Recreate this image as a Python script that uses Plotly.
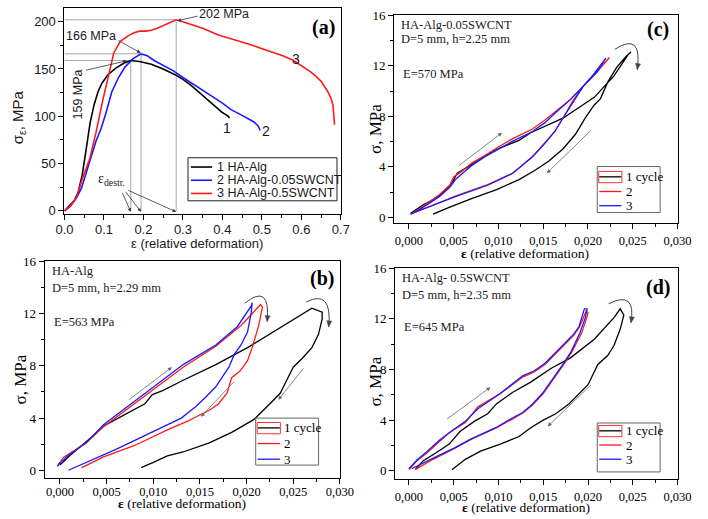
import numpy as np
import plotly.graph_objects as go

W, H = 708, 519

# ---------------- data: panel (a) stress-strain ----------------
a_names = ["1 HA-Alg", "2 HA-Alg-0.05SWCNT", "3 HA-Alg-0.5SWCNT"]
a_colors = ["#000000", "#1a1aff", "#ff1a1a"]
a_curve_labels = ["1", "2", "3"]

a1_x = [0, 0.015, 0.025, 0.035, 0.045, 0.055, 0.065, 0.075, 0.085, 0.095, 0.11, 0.13, 0.15, 0.168,
        0.19, 0.22, 0.25, 0.28, 0.30, 0.32, 0.34, 0.36, 0.38, 0.40, 0.415, 0.418]
a1_y = [0, 6, 11, 20, 38, 65, 93, 112, 126, 135, 144, 151, 156, 159,
        158, 155, 150, 144, 139, 133, 126, 118, 111, 104, 100, 98]

a2_x = [0, 0.015, 0.031, 0.043, 0.055, 0.068, 0.08, 0.092, 0.104, 0.12, 0.137, 0.153, 0.174, 0.194,
        0.21, 0.227, 0.25, 0.276, 0.30, 0.325, 0.35, 0.374, 0.40, 0.422, 0.445, 0.463, 0.48, 0.49, 0.496]
a2_y = [0, 5, 14, 24, 40, 59, 74, 86, 102, 126, 141, 152, 161, 166,
        164, 159, 154, 148, 141, 134, 127, 121, 114, 107, 102, 98, 94, 90, 85]

a3_x = [0, 0.015, 0.03, 0.047, 0.064, 0.08, 0.096, 0.113, 0.125, 0.141, 0.161, 0.175, 0.19, 0.205,
        0.22, 0.235, 0.25, 0.265, 0.283, 0.30, 0.35, 0.39, 0.43, 0.47, 0.51, 0.553, 0.58, 0.602,
        0.62, 0.635, 0.65, 0.667, 0.675, 0.68, 0.683, 0.684]
a3_y = [0, 5, 14, 36, 55, 83, 115, 147, 167, 179, 185, 188, 190, 190,
        191, 193, 196, 199, 202, 200, 193, 186, 181, 176, 170, 164, 159, 153,
        148, 143, 137, 126, 119, 112, 100, 91]

a_curve_label_pos_x = [0.411, 0.511, 0.586]
a_curve_label_pos_y = [88, 84, 161]

# ---------------- data: cyclic loading panels ----------------
cyc_names = ["1 cycle", "2", "3"]
cyc_colors = ["#000000", "#ff1a1a", "#1a1aff"]

# (b) HA-Alg
b1_x = [0.0000, 0.0010, 0.0020, 0.0035, 0.0047, 0.0060, 0.0070, 0.0080, 0.0091, 0.0099, 0.0110, 0.0132,
        0.0167, 0.0201, 0.0236, 0.0270, 0.0281, 0.0281, 0.0277, 0.0270, 0.0260, 0.0250, 0.0243, 0.0236,
        0.0225, 0.0215, 0.0208, 0.0184, 0.0160, 0.0132, 0.0115, 0.0100, 0.0087]
b1_y = [0.4, 1.1, 1.7, 2.6, 3.4, 3.9, 4.3, 4.7, 5.1, 5.8, 6.1, 6.9,
        8.1, 9.4, 10.9, 12.42, 12.12, 11.6, 10.4, 9.4, 8.6, 7.9, 6.9, 5.9,
        5.1, 4.4, 3.9, 2.9, 2.1, 1.4, 1.1, 0.6, 0.2]
b2_x = [0.0000, -0.0002, 0.0004, 0.0015, 0.0028, 0.0046, 0.0070, 0.0098, 0.0132, 0.0167, 0.0194, 0.0215,
        0.0217, 0.0213, 0.0206, 0.0201, 0.0193, 0.0184, 0.0179, 0.0170, 0.0160, 0.0146, 0.0138, 0.0115,
        0.0080, 0.0046, 0.0023]
b2_y = [0.6, 0.4, 1.0, 1.5, 2.1, 3.3, 4.6, 6.1, 7.9, 9.5, 11.1, 12.7,
        12.5, 11.1, 9.4, 8.4, 7.6, 7.1, 5.9, 5.1, 4.6, 4.1, 3.8, 3.1,
        1.9, 1.0, 0.18]
b3_x = [0.0000, -0.0003, 0.0008, 0.0028, 0.0047, 0.0073, 0.0101, 0.0132, 0.0167, 0.0190, 0.0205, 0.0206,
        0.0205, 0.0201, 0.0194, 0.0187, 0.0181, 0.0174, 0.0167, 0.0156, 0.0146, 0.0130, 0.0100, 0.0060,
        0.0009]
b3_y = [0.6, 0.3, 1.1, 2.1, 3.5, 4.9, 6.4, 8.1, 9.6, 11.0, 12.6, 12.85,
        12.1, 10.6, 9.6, 8.9, 7.9, 7.1, 6.4, 5.6, 4.9, 4.0, 2.95, 1.6,
        0.0]

# (c) HA-Alg-0.05SWCNT
c1_x = [0.0002, 0.0016, 0.0027, 0.0037, 0.0048, 0.0054, 0.0066, 0.0088, 0.0102, 0.0123, 0.0136, 0.0172,
        0.0207, 0.0229, 0.0245, 0.0248, 0.0243, 0.0232, 0.0222, 0.0214, 0.0207, 0.0197, 0.0186, 0.0172,
        0.0156, 0.0140, 0.0123, 0.0098, 0.0070, 0.0045, 0.0027]
c1_y = [0.34, 1.0, 1.4, 1.9, 2.7, 3.5, 4.0, 5.0, 5.5, 6.1, 6.7, 7.85,
        9.5, 11.2, 12.9, 13.08, 12.77, 11.87, 10.7, 9.4, 8.9, 7.87, 6.58, 5.42,
        4.45, 3.7, 3.0, 2.2, 1.5, 0.8, 0.26]
c2_x = [0.0002, 0.0010, 0.0020, 0.0034, 0.0046, 0.0050, 0.0060, 0.0070, 0.0085, 0.0098, 0.0115, 0.0138,
        0.0152, 0.0164, 0.0180, 0.0195, 0.0210, 0.0224, 0.0207, 0.0195, 0.0182, 0.0175, 0.0163, 0.0150,
        0.0138, 0.0116, 0.0088, 0.0052, 0.0023, 0.0002]
c2_y = [0.26, 0.6, 1.1, 1.8, 2.6, 3.2, 3.7, 4.3, 4.9, 5.5, 6.2, 7.0,
        7.7, 8.4, 9.3, 10.4, 11.5, 12.65, 11.3, 10.4, 9.1, 8.2, 6.8, 5.8,
        4.8, 3.5, 2.6, 1.7, 0.9, 0.26]
c3_x = [0.0002, 0.0010, 0.0020, 0.0034, 0.0046, 0.0052, 0.0060, 0.0070, 0.0085, 0.0098, 0.0115, 0.0138,
        0.0152, 0.0164, 0.0180, 0.0195, 0.0210, 0.0220, 0.0206, 0.0195, 0.0182, 0.0175, 0.0163, 0.0150,
        0.0138, 0.0116, 0.0088, 0.0052, 0.0023, 0.0002]
c3_y = [0.26, 0.55, 1.0, 1.65, 2.4, 3.0, 3.5, 4.1, 4.8, 5.3, 6.0, 6.8,
        7.5, 8.3, 9.3, 10.4, 11.5, 12.6, 11.3, 10.4, 9.0, 8.2, 6.8, 5.7,
        4.8, 3.5, 2.55, 1.65, 0.85, 0.3]

# (d) HA-Alg-0.5SWCNT
d1_x = [0.0007, 0.0016, 0.0030, 0.0045, 0.0057, 0.0073, 0.0088, 0.0098, 0.0116, 0.0136, 0.0159, 0.0180,
        0.0207, 0.0229, 0.0236, 0.0240, 0.0236, 0.0229, 0.0222, 0.0211, 0.0200, 0.0189, 0.0179, 0.0164,
        0.0150, 0.0136, 0.0123, 0.0102, 0.0080, 0.0063, 0.0048]
d1_y = [0.08, 0.78, 1.4, 2.1, 3.1, 3.9, 4.5, 5.3, 6.2, 7.0, 8.1, 8.9,
        10.4, 12.1, 12.8, 12.3, 11.2, 9.9, 9.1, 8.4, 6.8, 6.05, 5.3, 4.5,
        4.0, 3.4, 2.7, 2.1, 1.55, 0.9, 0.08]
d2_x = [0.0000, 0.0009, 0.0020, 0.0034, 0.0045, 0.0063, 0.0077, 0.0102, 0.0127, 0.0140, 0.0152, 0.0166,
        0.0184, 0.0190, 0.0198, 0.0200, 0.0199, 0.0193, 0.0182, 0.0172, 0.0161, 0.0150, 0.0138, 0.0128,
        0.0116, 0.0098, 0.0070, 0.0052, 0.0027, 0.0007]
d2_y = [0.08, 0.78, 1.4, 2.3, 3.0, 3.8, 5.05, 6.1, 7.4, 7.8, 8.4, 9.4,
        10.7, 11.3, 12.6, 12.5, 12.2, 10.9, 9.4, 8.3, 7.2, 6.1, 5.2, 4.6,
        4.1, 3.4, 2.5, 1.8, 0.9, 0.08]
d3_x = [0.0000, 0.0009, 0.0020, 0.0034, 0.0045, 0.0063, 0.0077, 0.0102, 0.0127, 0.0140, 0.0152, 0.0166,
        0.0184, 0.0190, 0.0196, 0.0199, 0.0197, 0.0191, 0.0181, 0.0171, 0.0160, 0.0149, 0.0137, 0.0127,
        0.0115, 0.0097, 0.0069, 0.0051, 0.0026, 0.0003]
d3_y = [0.15, 0.85, 1.5, 2.4, 3.0, 3.9, 4.9, 6.1, 7.5, 7.9, 8.5, 9.5,
        10.8, 11.4, 12.8, 12.8, 12.1, 10.9, 9.4, 8.3, 7.2, 6.1, 5.2, 4.6,
        4.15, 3.4, 2.5, 1.8, 0.95, 0.15]

# tick labels
a_x_ticks = [0, 0.1, 0.2, 0.3, 0.4, 0.5, 0.6, 0.7]
a_x_labels = ["0.0", "0.1", "0.2", "0.3", "0.4", "0.5", "0.6", "0.7"]
a_y_ticks = [0, 50, 100, 150, 200]
cyc_x_ticks = [0, 0.005, 0.010, 0.015, 0.020, 0.025, 0.030]
cyc_x_labels = ["0,000", "0,005", "0,010", "0,015", "0,020", "0,025", "0,030"]
cyc_y_ticks = [0, 4, 8, 12, 16]

panel_info = {
    "b": ["HA-Alg", "D=5 mm, h=2.29 mm", "E=563 MPa"],
    "c": ["HA-Alg-0.05SWCNT", "D=5 mm, h=2.25 mm", "E=570 MPa"],
    "d": ["HA-Alg- 0.5SWCNT", "D=5 mm, h=2.35 mm", "E=645 MPa"],
}

# ---------------- helpers ----------------
SANS = "Liberation Sans"
SERIF = "Liberation Serif"


def PX(px):
    return px / W


def PY(py):
    return 1 - py / H


fig = go.Figure()

# panel (a) reference lines from peak values
a_series = [(a1_x, a1_y), (a2_x, a2_y), (a3_x, a3_y)]
peaks = []
for xs, ys in a_series:
    i = int(np.argmax(ys))
    peaks.append((xs[i], ys[i]))
for px_, py_ in peaks:
    fig.add_trace(go.Scatter(x=[0, px_, px_], y=[py_, py_, 0], mode="lines",
                             line=dict(color="#a8a8a8", width=1), showlegend=False,
                             hoverinfo="skip", xaxis="x", yaxis="y"))
for (xs, ys), nm, col in zip(a_series, a_names, a_colors):
    fig.add_trace(go.Scatter(x=xs, y=ys, mode="lines", name=nm, line=dict(color=col, width=1.6),
                             showlegend=False, xaxis="x", yaxis="y"))

cyc_series = {
    "b": ([(b1_x, b1_y), (b2_x, b2_y), (b3_x, b3_y)], "x3", "y3"),
    "c": ([(c1_x, c1_y), (c2_x, c2_y), (c3_x, c3_y)], "x2", "y2"),
    "d": ([(d1_x, d1_y), (d2_x, d2_y), (d3_x, d3_y)], "x4", "y4"),
}
for key, (series, xa, ya) in cyc_series.items():
    for (xs, ys), nm, col in zip(series, cyc_names, cyc_colors):
        fig.add_trace(go.Scatter(x=xs, y=ys, mode="lines", name=nm, line=dict(color=col, width=1.3),
                                 showlegend=False, xaxis=xa, yaxis=ya))


def axis_base(font):
    return dict(showline=True, linecolor="black", linewidth=1, mirror=True, ticks="outside",
                ticklen=5, tickwidth=1, tickcolor="black", showgrid=False, zeroline=False,
                tickfont=font, fixedrange=True)


fa = dict(family=SANS, size=13, color="#1a1a1a")
fs = dict(family=SERIF, size=13, color="black")
fsx = dict(family=SERIF, size=12.5, color="black")

layout = dict(width=W, height=H, margin=dict(l=0, r=0, t=0, b=0), paper_bgcolor="white",
              plot_bgcolor="white", showlegend=False)

layout["xaxis"] = dict(axis_base(fa), domain=[PX(57.3), PX(343)], range=[0, 0.7], anchor="y",
                       tickmode="array", tickvals=a_x_ticks, ticktext=a_x_labels,
                       minor=dict(dtick=0.05, tick0=0, ticklen=3, ticks="outside", tickcolor="black"),
                       ticklabelstandoff=-2)
layout["yaxis"] = dict(axis_base(fa), domain=[PY(211.7), PY(1)], range=[-3.5, 214.5], anchor="x",
                       tickmode="array", tickvals=a_y_ticks,
                       minor=dict(dtick=25, tick0=0, ticklen=3, ticks="outside", tickcolor="black"))

# key: x axis, y axis, refs, x domain px, x range, y domain px (top, bottom), y range, label standoff
cyc_axes = {
    "c": ("xaxis2", "yaxis2", "x2", "y2", [398, 691], [-0.00165, 0.030], [8.3, 221], [-0.46, 16], 1),
    "b": ("xaxis3", "yaxis3", "x3", "y3", [36.7, 342], [-0.00166, 0.030], [260, 481.7], [-0.63, 16], -3),
    "d": ("xaxis4", "yaxis4", "x4", "y4", [399, 691], [-0.00155, 0.030], [267, 482], [-0.64, 16], 1),
}
scales = {}
for key, (xn, yn, xr, yr, xd, xrng, yd, yrng, stand) in cyc_axes.items():
    layout[xn] = dict(axis_base(fsx), domain=[PX(xd[0]), PX(xd[1])], range=xrng, anchor=yr,
                      tickmode="array", tickvals=cyc_x_ticks, ticktext=cyc_x_labels,
                      minor=dict(dtick=0.0025, tick0=0, ticklen=3, ticks="outside", tickcolor="black"),
                      ticklabelstandoff=stand)
    layout[yn] = dict(axis_base(fs), domain=[PY(yd[1]), PY(yd[0])], range=yrng, anchor=xr,
                      tickmode="array", tickvals=cyc_y_ticks,
                      minor=dict(dtick=2, tick0=0, ticklen=3, ticks="outside", tickcolor="black"))
    # pixels per data unit, used only to shape the small arrow heads
    scales[xr] = (xd[1] - xd[0]) / (xrng[1] - xrng[0])
    scales[yr] = (yd[1] - yd[0]) / (yrng[1] - yrng[0])

fig.update_layout(**layout)

ann = []
shapes = []


def ptext(px, py, text, font, xanchor="center", angle=0):
    ann.append(dict(x=PX(px), y=PY(py), xref="paper", yref="paper", text=text, showarrow=False,
                    font=font, xanchor=xanchor, yanchor="middle", textangle=angle))


def arrow(xr, yr, head, tail, color="#555555", width=0.8, size=1.0):
    ann.append(dict(x=head[0], y=head[1], ax=tail[0], ay=tail[1], xref=xr, yref=yr, axref=xr, ayref=yr,
                    text="", showarrow=True, arrowhead=2, arrowsize=size, arrowwidth=width,
                    arrowcolor=color, standoff=0, startstandoff=0))


def curved(xr, yr, p0, c, p1, color="#444444"):
    shapes.append(dict(type="path", xref=xr, yref=yr,
                       path=f"M {p0[0]},{p0[1]} Q {c[0]},{c[1]} {p1[0]},{p1[1]}",
                       line=dict(color=color, width=1)))
    sx, sy = scales[xr], scales[yr]
    dx, dy = (p1[0] - c[0]) * sx, -(p1[1] - c[1]) * sy
    n = (dx ** 2 + dy ** 2) ** 0.5
    ux, uy = dx / n, dy / n
    L, Wd = 6.0, 2.6
    bx, by = -ux * L, -uy * L
    pts = [(0, 0), (bx - uy * Wd, by + ux * Wd), (bx + uy * Wd, by - ux * Wd)]
    dpts = [(p1[0] + qx / sx, p1[1] - qy / sy) for qx, qy in pts]
    path = "M " + " L ".join(f"{a},{b}" for a, b in dpts) + " Z"
    shapes.append(dict(type="path", xref=xr, yref=yr, path=path, fillcolor=color,
                       line=dict(color=color, width=0.5)))


# ---- panel (a) texts ----
ptext(194.5, 242, "ε (relative deformation)", dict(family=SANS, size=13, color="#1a1a1a"))
ptext(10, 113, "σ<sub>ε</sub>, MPa", dict(family=SANS, size=15, color="#1a1a1a"), angle=-90)
ptext(325, 21, "<b>(a)</b>", dict(family=SERIF, size=20, color="black"))
for lx, ly, t in zip(a_curve_label_pos_x, a_curve_label_pos_y, a_curve_labels):
    ann.append(dict(x=lx, y=ly, xref="x", yref="y", text=t, showarrow=False,
                    font=dict(family=SANS, size=14, color="#1a1a1a")))
peak_text_pos = [(0.0352, 123.4, -90), (0.068, 185.2, 0), (0.4035, 207.8, 0)]
peak_arrow_tail = [(0.051, 148.4), (0.133, 181), (0.341, 206.2)]
peak_arrow_head = [(0.158, 158.7), (0.193, 167), (0.286, 201)]
for (pkx, pky), (tx, ty, ang), tl, hd in zip(peaks, peak_text_pos, peak_arrow_tail, peak_arrow_head):
    ann.append(dict(x=tx, y=ty, xref="x", yref="y", text=f"{pky:.0f} MPa", showarrow=False,
                    textangle=ang, font=dict(family=SANS, size=12.5, color="#1a1a1a")))
    arrow("x", "y", hd, tl, color="#333333", width=0.8, size=0.9)
ann.append(dict(x=0.1204, y=33.4, xref="x", yref="y", text="ε<sub>destr.</sub>", showarrow=False,
                font=dict(family=SERIF, size=14, color="#1a1a1a")))
for (pkx, pky), tl in zip(peaks, [(0.145, 20.7), (0.152, 21.7), (0.158, 22.4)]):
    arrow("x", "y", (pkx, -1.0), tl, color="#333333", width=0.8, size=0.9)

# legend (a)
shapes.append(dict(type="rect", xref="paper", yref="paper", x0=PX(185), x1=PX(339), y0=PY(198), y1=PY(154),
                   line=dict(color="#222222", width=1), fillcolor="white"))
for i, (nm, col) in enumerate(zip(a_names, a_colors)):
    yy = 163.5 + 13.5 * i
    shapes.append(dict(type="line", xref="paper", yref="paper", x0=PX(188), x1=PX(210), y0=PY(yy), y1=PY(yy),
                       line=dict(color=col, width=1.6)))
    ptext(213, yy, nm, dict(family=SANS, size=12.5, color="#1a1a1a"), xanchor="left")

# ---- cyclic panels texts ----
cyc_text = {
    "b": dict(xt=(178.5, 507), yt=(12, 381), lab=(324, 277), info_x=42,
              info_y=[270, 287, 322], leg=(255, 420, 320, 468), leg_ys=[430, 446, 462]),
    "c": dict(xt=(533, 252), yt=(379, 125), lab=(671, 23), info_x=403,
              info_y=[18, 33, 68], leg=(608, 163, 673, 210), leg_ys=[173.5, 188.5, 203]),
    "d": dict(xt=(534, 511.5), yt=(379, 383), lab=(671, 287), info_x=404,
              info_y=[277, 294, 327], leg=(608, 425, 673, 475), leg_ys=[433, 447.5, 462]),
}
for key, cfg in cyc_text.items():
    ptext(cfg["xt"][0], cfg["xt"][1], "<b>ε</b> (relative deformation)", dict(family=SERIF, size=13.5, color="black"))
    ptext(cfg["yt"][0], cfg["yt"][1], "σ, MPa", dict(family=SERIF, size=17, color="black"), angle=-90)
    ptext(cfg["lab"][0], cfg["lab"][1], f"<b>({key})</b>", dict(family=SERIF, size=20, color="black"))
    for line_txt, yy in zip(panel_info[key], cfg["info_y"]):
        ptext(cfg["info_x"] + (2 if line_txt.startswith("E=") else 0), yy, line_txt,
              dict(family=SERIF, size=12.5, color="#1a1a1a"), xanchor="left")
    x0, y0, x1, y1 = cfg["leg"]
    shapes.append(dict(type="rect", xref="paper", yref="paper", x0=PX(x0), x1=PX(x1), y0=PY(y1), y1=PY(y0),
                       line=dict(color="#666666", width=1), fillcolor="white"))
    for i, (nm, col) in enumerate(zip(cyc_names, cyc_colors)):
        yy = cfg["leg_ys"][i]
        shapes.append(dict(type="line", xref="paper", yref="paper", x0=PX(x0 + 2), x1=PX(x0 + 25),
                           y0=PY(yy), y1=PY(yy), line=dict(color=col, width=1.3)))
        if i == 0:
            shapes.append(dict(type="rect", xref="paper", yref="paper", x0=PX(x0 + 1.5), x1=PX(x0 + 25.5),
                               y0=PY(yy + 6), y1=PY(yy - 5.5), line=dict(color="#ff3030", width=1)))
        ptext(x0 + 27.5, yy, nm, dict(family=SERIF, size=13, color="black"), xanchor="left")

# straight arrows (direction of loading/unloading)
arrow("x3", "y3", (0.0120, 7.9), (0.0072, 5.3), color="#666666")
arrow("x3", "y3", (0.0151, 4.1), (0.0188, 6.9), color="#666666")
arrow("x3", "y3", (0.0234, 5.4), (0.0262, 7.9), color="#666666")
arrow("x2", "y2", (0.0104, 6.7), (0.0054, 4.0), color="#666666")
arrow("x2", "y2", (0.0154, 3.5), (0.0205, 7.0), color="#666666")
arrow("x4", "y4", (0.0091, 6.6), (0.0041, 4.0), color="#666666")
arrow("x4", "y4", (0.0155, 3.5), (0.0205, 6.9), color="#666666")

# curved arrows near the load reversal points
curved("x3", "y3", (0.0198, 12.8), (0.0226, 14.4), (0.0222, 11.4))
curved("x3", "y3", (0.0264, 12.9), (0.0292, 13.9), (0.0288, 11.0))
curved("x2", "y2", (0.0230, 13.3), (0.0261, 14.7), (0.0255, 11.7))
curved("x4", "y4", (0.0223, 13.2), (0.0254, 14.3), (0.0248, 11.7))

fig.update_layout(annotations=ann, shapes=shapes)
fig.write_html("out.html", config={"displayModeBar": False},
               post_script="document.body.style.margin='0';document.body.style.padding='0';"
                           "document.documentElement.style.overflow='hidden';"
                           "document.body.style.overflow='hidden';")
